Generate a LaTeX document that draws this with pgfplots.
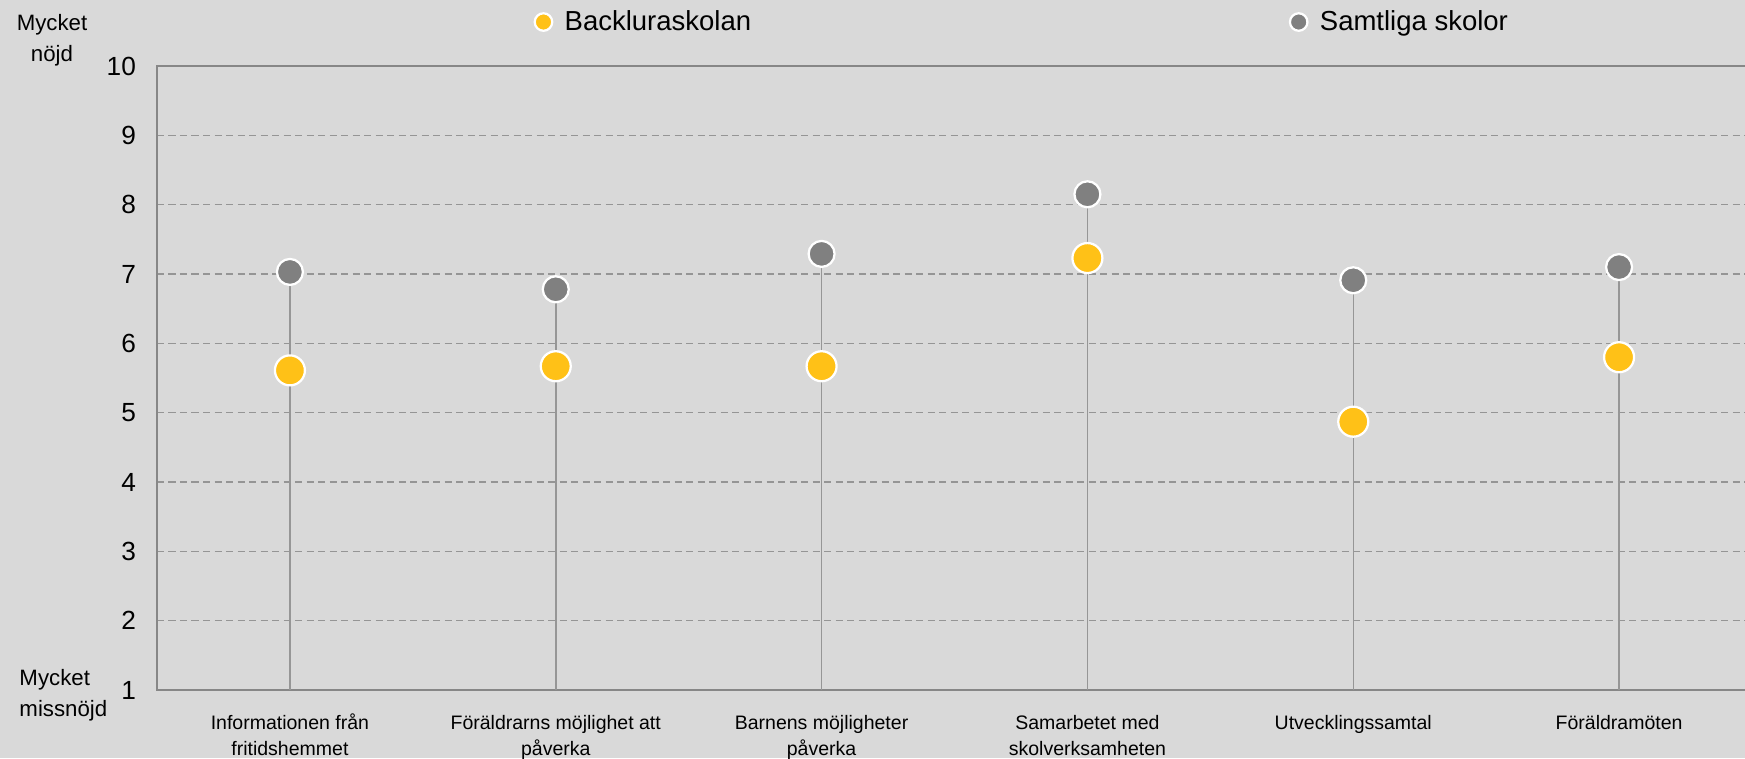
\documentclass[border=0pt]{standalone}
\usepackage{fontspec}
\setmainfont{Liberation Sans}
\usepackage{pgfplots}
\pgfplotsset{compat=1.18}

\definecolor{bg}{HTML}{D9D9D9}
\definecolor{axgray}{HTML}{878787}
\definecolor{gridgray}{HTML}{959595}
\definecolor{stemgray}{HTML}{969696}
\definecolor{dotgray}{HTML}{808080}
\definecolor{dotyellow}{HTML}{FFC117}

\begin{document}
\begin{tikzpicture}
\fill[bg] (-62.8pt,-27.2pt) rectangle (635.2pt,276pt);
\begin{axis}[
    at={(0pt,0pt)}, anchor=south west,
    scale only axis,
    width=638pt, height=249.6pt,
    xmin=-0.5, xmax=5.5,
    ymin=1, ymax=10,
    xtick={0,...,5},
    ytick={1,...,10},
    xticklabels={
        {\strut Informationen från\\fritidshemmet},
        {\strut Föräldrarns möjlighet att\\påverka},
        {\strut Barnens möjligheter\\påverka},
        {\strut Samarbetet med\\skolverksamheten},
        {\strut Utvecklingssamtal},
        {\strut Föräldramöten}},
    major tick length=0pt,
    axis line style={draw=axgray, line width=0.8pt},
    ymajorgrids,
    grid style={dash pattern=on 2.9pt off 1.7pt, draw=gridgray, line width=0.5pt},
    /pgf/number format/assume math mode=true,
    yticklabel style={font=\fontsize{10.5}{12}\selectfont, xshift=-4.9pt},
    xticklabel style={align=center, font=\fontsize{7.8}{10.7}\selectfont, yshift=-4.6pt},
    legend columns=2,
    legend image code/.code={\draw[#1, mark size=3.5pt] plot coordinates {(0pt,0pt)};},
    legend style={draw=none, fill=none, inner sep=0pt,
        at={(0.2365,1.0705)}, anchor=west,
        font=\fontsize{11}{13}\selectfont,
        /tikz/every odd column/.append style={column sep=3.0pt},
        /tikz/every even column/.append style={column sep=213.5pt}},
]
% stems up to the value for all schools
\addplot[ycomb, draw=stemgray, line width=0.6pt, no markers, forget plot]
    coordinates {(0,7.03) (1,6.78) (2,7.29) (3,8.15) (4,6.91) (5,7.10)};

\addplot[only marks, mark=*, mark size=6.0pt,
    mark options={fill=dotyellow, draw=white, line width=0.9pt}]
    coordinates {(0,5.61) (1,5.67) (2,5.67) (3,7.23) (4,4.87) (5,5.80)};
\addlegendentry{Backluraskolan}

\addplot[only marks, mark=*, mark size=5.2pt,
    mark options={fill=dotgray, draw=white, line width=0.9pt}]
    coordinates {(0,7.03) (1,6.78) (2,7.29) (3,8.15) (4,6.91) (5,7.10)};
\addlegendentry{Samtliga skolor}
\end{axis}

\node[font=\fontsize{8.9}{12.5}\selectfont, align=center] at (-42pt,260pt) {Mycket\\nöjd};
\node[font=\fontsize{8.9}{12.5}\selectfont, align=left, anchor=west, inner sep=0pt] at (-55.2pt,-2pt) {Mycket\\missnöjd};

\pgfresetboundingbox
\useasboundingbox (-62.8pt,-27.2pt) rectangle (635.2pt,276pt);
\end{tikzpicture}
\end{document}
